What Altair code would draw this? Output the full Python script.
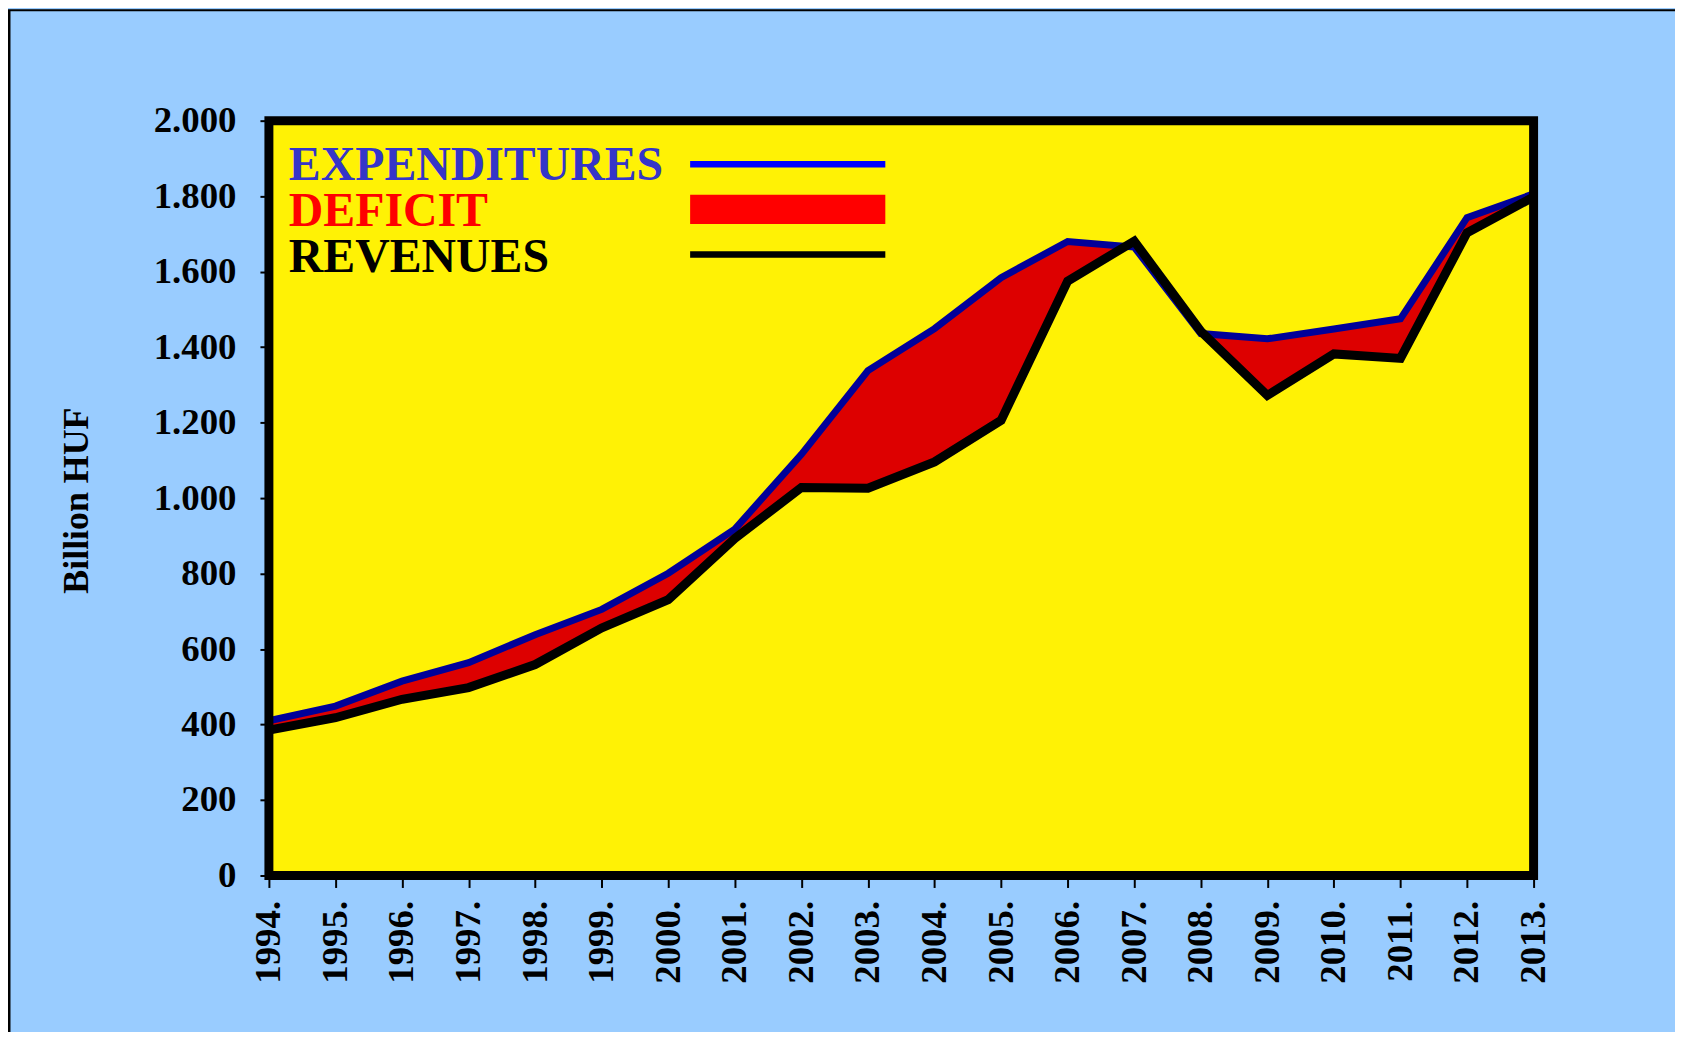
import altair as alt
import pandas as pd

years = list(range(1994, 2014))
expenditures = [410, 449, 515, 564, 638, 705, 801, 918, 1116, 1338,
                1449, 1584, 1680, 1665, 1436, 1422, 1448, 1475, 1743, 1806]
revenues = [385, 418, 467, 498, 559, 656, 731, 893, 1028, 1026,
            1096, 1206, 1575, 1681, 1442, 1272, 1382, 1370, 1703, 1798]
y_ticks = list(range(0, 2001, 200))
legend_labels = ["EXPENDITURES", "DEFICIT", "REVENUES"]

df = pd.DataFrame({"year": years, "exp": expenditures, "rev": revenues})
one = pd.DataFrame({"k": [0]})

FONT = "Liberation Serif"
W, H = 1270, 758

xscale = alt.Scale(domain=[1994, 2013], nice=False, zero=False)
yscale = alt.Scale(domain=[0, 2000], nice=False)

x_axis = alt.Axis(values=years, labelExpr="datum.value + '.'", labelAngle=-90,
                  labelFont=FONT, labelFontWeight="bold", labelFontSize=37,
                  labelColor="black", labelPadding=13, tickSize=12, tickWidth=2,
                  tickColor="black", domain=False, grid=False, title=None,
                  labelOverlap=False)
y_axis = alt.Axis(values=y_ticks,
                  labelExpr="replace(format(datum.value, ','), ',', '.')",
                  labelFont=FONT, labelFontWeight="bold", labelFontSize=37,
                  labelColor="black", labelPadding=24, tickSize=9, tickWidth=2,
                  tickColor="black", domain=False, grid=False,
                  title="Billion HUF", titleFont=FONT, titleFontWeight="bold",
                  titleFontSize=36, titleColor="black", titleAngle=270,
                  titleAlign="center", titleBaseline="alphabetic",
                  titleX=-182, titleY=381, labelOverlap=False)

X = alt.X("year:Q", scale=xscale, axis=x_axis)

area = alt.Chart(df).mark_area(color="#dd0000", opacity=1).encode(
    x=X,
    y=alt.Y("exp:Q", scale=yscale, axis=y_axis),
    y2="rev:Q",
)
exp_line = alt.Chart(df).mark_line(color="#000099", strokeWidth=7).encode(
    x=X,
    y=alt.Y("exp:Q", scale=yscale, axis=y_axis),
)
rev_line = alt.Chart(df).mark_line(color="black", strokeWidth=9).encode(
    x=X,
    y=alt.Y("rev:Q", scale=yscale, axis=y_axis),
)

frame = alt.Chart(one).mark_rect(fillOpacity=0, stroke="black", strokeWidth=9).encode(
    x=alt.value(0), x2=alt.value("width"), y=alt.value(0), y2=alt.value("height")
)

# legend
leg_colors = ["#3535c8", "#ff0000", "black"]
leg_base = [60, 106, 152]
legend_layers = []
for lab, col, yb in zip(legend_labels, leg_colors, leg_base):
    legend_layers.append(
        alt.Chart(one).mark_text(font=FONT, fontWeight="bold", fontSize=48,
                                 align="left", baseline="alphabetic", color=col)
        .encode(x=alt.value(20), y=alt.value(yb), text=alt.value(lab))
    )
legend_layers.append(
    alt.Chart(one).mark_rule(color="#0000ff", strokeWidth=6.5).encode(
        x=alt.value(423), x2=alt.value(619), y=alt.value(43.7))
)
legend_layers.append(
    alt.Chart(one).mark_rect(color="#ff0000").encode(
        x=alt.value(423), x2=alt.value(619), y=alt.value(74.3), y2=alt.value(103.7))
)
legend_layers.append(
    alt.Chart(one).mark_rule(color="black", strokeWidth=6.5).encode(
        x=alt.value(423), x2=alt.value(619), y=alt.value(134.3))
)

# outer figure border (left and top)
border_left = alt.Chart(one).mark_rule(color="black", strokeWidth=3).encode(
    x=alt.value(-261), y=alt.value(-111), y2=alt.value(1000))
border_top = alt.Chart(one).mark_rule(color="black", strokeWidth=2).encode(
    x=alt.value(-262), x2=alt.value(1500), y=alt.value(-111))

chart = alt.layer(area, exp_line, rev_line, frame, *legend_layers,
                  border_left, border_top).properties(
    width=W, height=H,
    padding={"left": 262, "top": 111, "right": 142, "bottom": 155},
    autosize=alt.AutoSizeParams(type="none"),
    background="#99ccff",
).configure_view(fill="#fff205", stroke="transparent")

chart.save("out.html", embed_options={"renderer": "svg", "actions": False})
